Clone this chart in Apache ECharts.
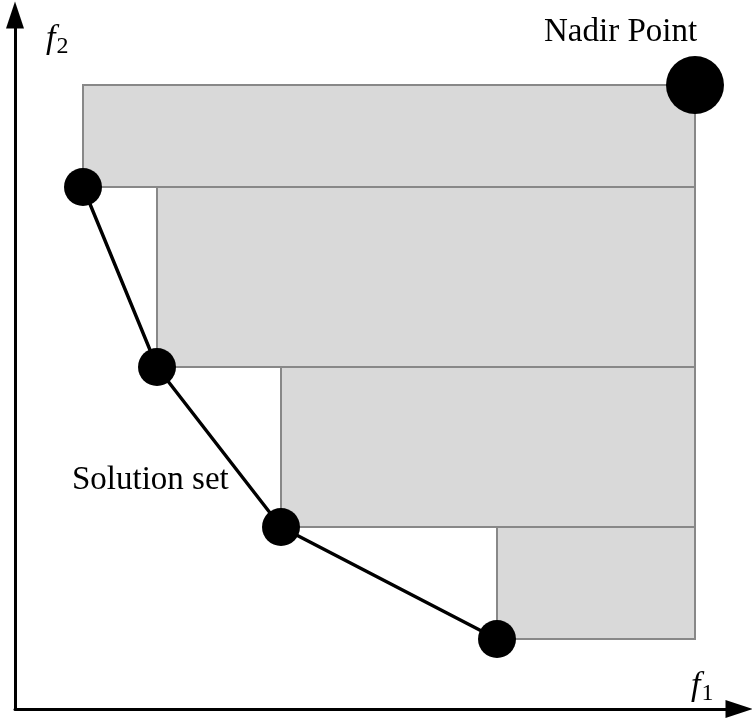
<!DOCTYPE html>
<html><head><meta charset="utf-8">
<script src="https://cdn.jsdelivr.net/npm/echarts@6/dist/echarts.min.js"></script>
<style>html,body{margin:0;padding:0;background:#fff}#c{width:752px;height:718px}</style>
</head><body><div id="c"></div>
<script>
// Solution set (f1, f2) and nadir point
var solutionF1 = [68, 142, 266, 482];
var solutionF2 = [522, 342, 182, 70];
var nadirPoint = [680, 624];

var chart = echarts.init(document.getElementById('c'));
var solData = solutionF1.map(function(v, i){ return [v, solutionF2[i]]; });
// Rectangles: from each solution to nadir in f1, between consecutive f2 levels
var rects = solData.map(function(p, i){
  var top = i === 0 ? nadirPoint[1] : solData[i-1][1];
  return [p[0], p[1], nadirPoint[0], top];
});
var serif = 'Liberation Serif';
var richF = {
  i: {fontFamily: serif, fontStyle: 'italic', fontSize: 34, fill: '#000', verticalAlign: 'bottom'},
  s: {fontFamily: serif, fontSize: 24, fill: '#000', verticalAlign: 'bottom', padding: [0,0,-3,1]}
};
chart.setOption({
  animation: false,
  grid: {left: 15, top: 15, right: 13, bottom: 9},
  xAxis: {type: 'value', min: 0, max: 724, splitLine: {show: false},
    axisTick: {show: false}, axisLabel: {show: false},
    axisLine: {show: true, symbol: ['none', 'triangle'], symbolSize: [18, 27],
      lineStyle: {color: '#000', width: 3}}},
  yAxis: {type: 'value', min: 0, max: 694, splitLine: {show: false},
    axisTick: {show: false}, axisLabel: {show: false},
    axisLine: {show: true, symbol: ['none', 'triangle'], symbolSize: [18, 27],
      lineStyle: {color: '#000', width: 3}}},
  series: [
    {type: 'custom', data: rects, z: 1,
      renderItem: function(params, api){
        var a = api.coord([api.value(0), api.value(3)]);
        var b = api.coord([api.value(2), api.value(1)]);
        return {type: 'rect', shape: {x: a[0], y: a[1], width: b[0]-a[0], height: b[1]-a[1]},
          style: {fill: '#d9d9d9', stroke: '#888888', lineWidth: 2}};
      }},
    {type: 'line', data: solData, z: 3, symbol: 'circle', symbolSize: 38,
      lineStyle: {color: '#000', width: 3.4}, itemStyle: {color: '#000', opacity: 1}},
    {type: 'scatter', data: [nadirPoint], z: 4, symbolSize: 58, itemStyle: {color: '#000', opacity: 1}}
  ],
  graphic: [
    {type: 'text', left: 544, top: 16, style: {text: 'Nadir Point', font: '33px "Liberation Serif"', fill: '#000'}},
    {type: 'text', left: 72, top: 464, style: {text: 'Solution set', font: '33px "Liberation Serif"', fill: '#000'}},
    {type: 'text', left: 46, top: 22, style: {text: '{i|f}{s|2}', rich: richF}},
    {type: 'text', left: 691, top: 669, style: {text: '{i|f}{s|1}', rich: richF}}
  ]
});
</script></body></html>
